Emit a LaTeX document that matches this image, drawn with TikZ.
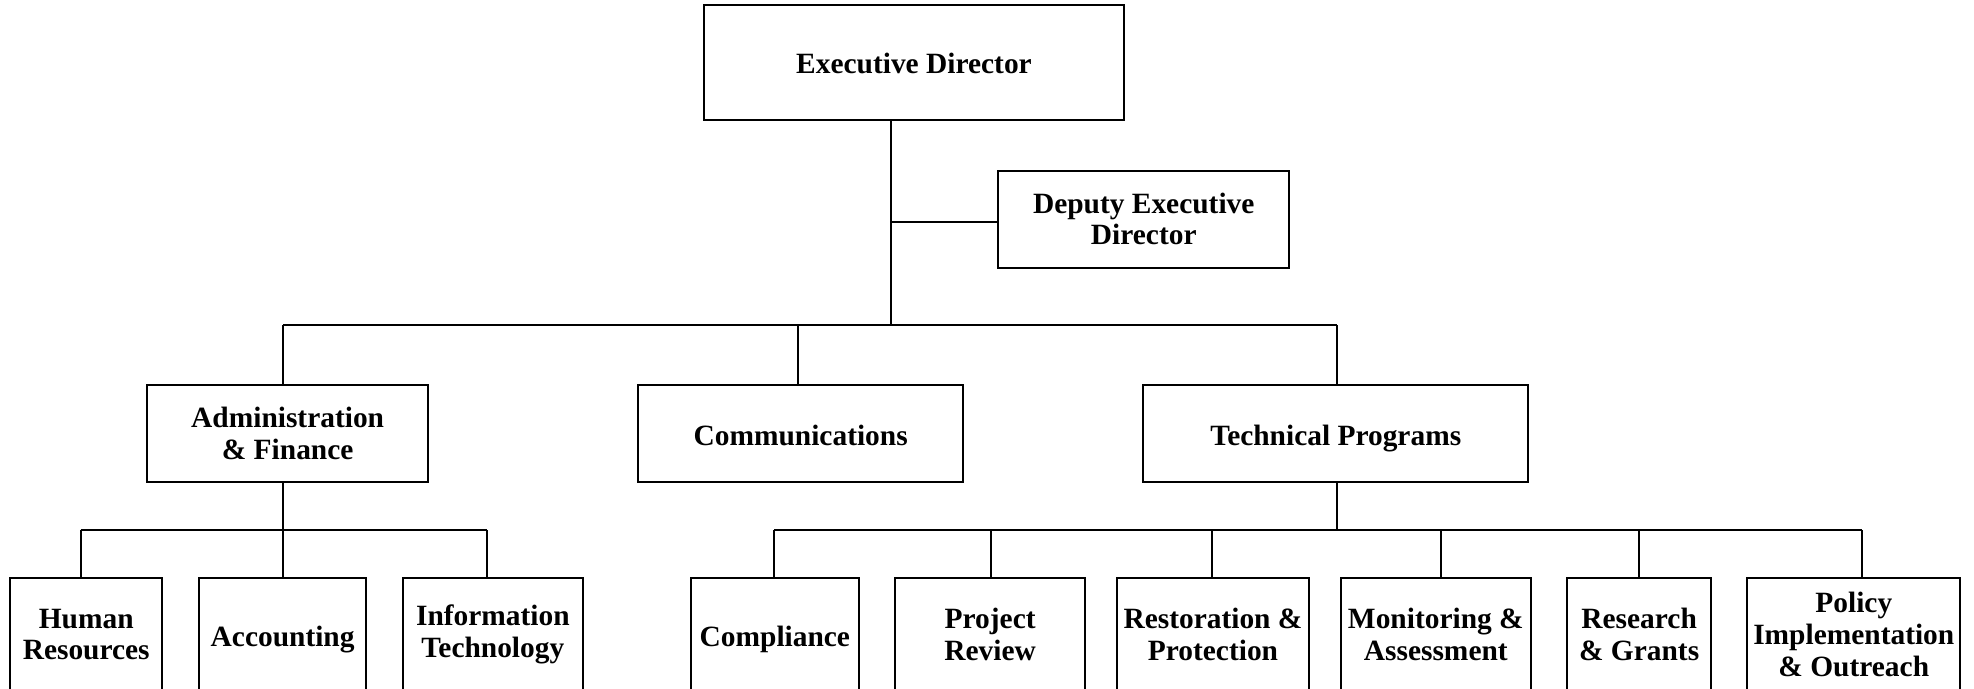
\documentclass[tikz,border=0pt]{standalone}
\usepackage{fontspec}
\setmainfont{Liberation Serif}
\usetikzlibrary{positioning,calc}

\tikzset{
  unit/.style={draw, line width=0.9pt, inner sep=0pt, align=center,
    font=\bfseries\fontsize{13.3}{14.3}\selectfont},
  oneline/.style={text height=10.5pt, text depth=0pt},
  link/.style={line width=0.9pt},
}

\begin{document}
\begin{tikzpicture}[x=0.02cm, y=-0.02cm]
        \useasboundingbox (0,0) rectangle (1568,547);
        \clip (0,0) rectangle (1568,547);
        % 上段
        \node[unit, oneline, minimum width=6.68cm, minimum height=1.82cm] (exec) at (726,49.5) {Executive Director};
        \node[unit, minimum width=4.62cm, minimum height=1.54cm] (deputy) at (908.5,174) {Deputy Executive\\Director};
        % 中段
        \node[unit, minimum width=4.46cm, minimum height=1.54cm] (admin) at (228.5,344.5) {Administration\\\& Finance};
        \node[unit, oneline, minimum width=5.16cm, minimum height=1.54cm] (comm) at (636,344.5) {Communications};
        \node[unit, oneline, minimum width=6.12cm, minimum height=1.54cm] (tech) at (1061,344.5) {Technical Programs};
        % 下段
        \node[unit, minimum width=2.42cm, minimum height=1.8cm] (hr) at (68.5,504) {Human\\Resources};
        \node[unit, oneline, minimum width=2.66cm, minimum height=1.8cm] (acc) at (224.5,504) {Accounting};
        \node[unit, minimum width=2.86cm, minimum height=1.8cm] (it) at (391.5,504) {Information\\Technology};
        \node[unit, oneline, minimum width=2.66cm, minimum height=1.8cm] (comp) at (615.5,504) {Compliance};
        \node[unit, minimum width=3.02cm, minimum height=1.8cm] (review) at (786.5,504) {Project\\Review};
        \node[unit, minimum width=3.06cm, minimum height=1.8cm] (restore) at (963.5,504) {Restoration \&\\Protection};
        \node[unit, minimum width=3.02cm, minimum height=1.8cm] (monitor) at (1140.5,504) {Monitoring \&\\Assessment};
        \node[unit, minimum width=2.28cm, minimum height=1.8cm] (research) at (1302,504) {Research\\\& Grants};
        \node[unit, minimum width=3.38cm, minimum height=1.8cm] (policy) at (1472.5,504) {Policy\\Implementation\\\& Outreach};
        % 幹線
        \foreach \k/\dx in {admin/-3.5,comm/-2,tech/1}
            \draw[link] ($(\k.north)+(\dx,0)$) -- ++(0,-47) coordinate (\k-top);
        \coordinate (spine) at (708,0);
        \draw[link] (spine |- exec.south) -- (spine |- admin-top);
        \draw[link] (admin-top) -- (admin-top -| tech-top);
        \draw[link] ($(deputy.west)+(0,2)$) coordinate (dep) -- (dep -| spine);
        % 管理部門
        \foreach \k/\dx in {hr/-4.5,acc/0,it/-4.5}
            \draw[link] ($(\k.north)+(\dx,0)$) -- ++(0,-37) coordinate (\k-top);
        \draw[link] (hr-top) -- (hr-top -| it-top);
        \draw[link] ($(admin.south)+(-3.5,0)$) coordinate (adm) -- (adm |- hr-top);
        % 技術部門
        \foreach \k/\dx in {comp/-0.5,review/0.5,restore/-0.5,monitor/4.5,research/0,policy/6.5}
            \draw[link] ($(\k.north)+(\dx,0)$) -- ++(0,-37) coordinate (\k-top);
        \draw[link] (comp-top) -- (comp-top -| policy-top);
        \draw[link] ($(tech.south)+(1,0)$) coordinate (tec) -- (tec |- comp-top);
    \end{tikzpicture}
\end{document}
